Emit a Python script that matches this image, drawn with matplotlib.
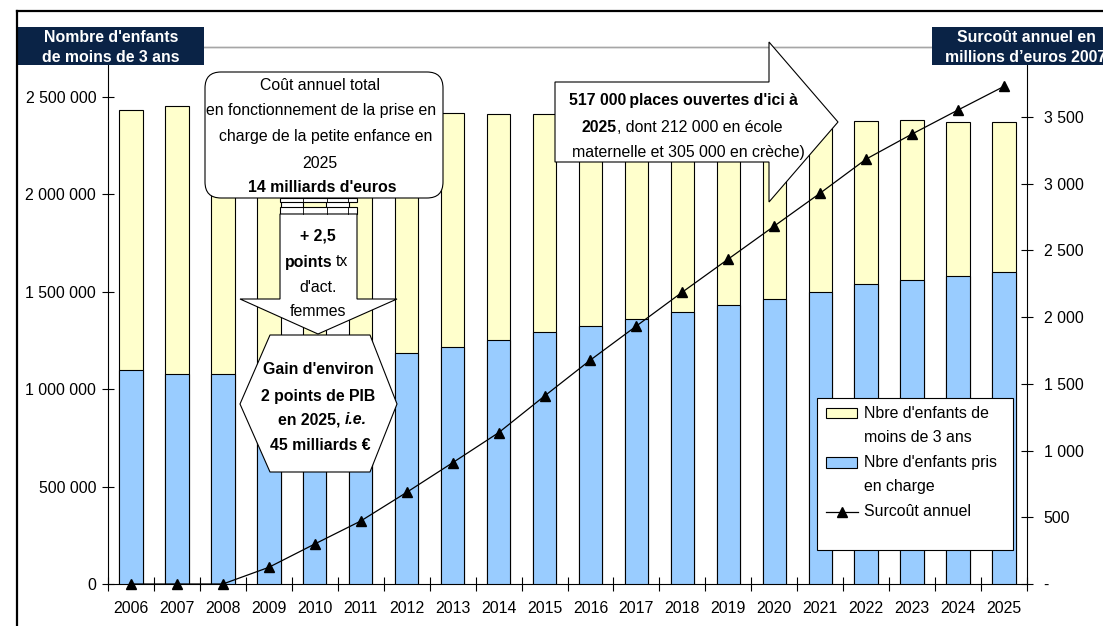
import numpy as np
import matplotlib
matplotlib.use("Agg")
import matplotlib.pyplot as plt
from matplotlib.patches import Rectangle, Polygon, FancyBboxPatch
from matplotlib.lines import Line2D

plt.rcParams['font.family'] = ['Liberation Sans', 'DejaVu Sans']

# ---------------- data ----------------
years = ['2006', '2007', '2008', '2009', '2010', '2011', '2012', '2013', '2014', '2015',
         '2016', '2017', '2018', '2019', '2020', '2021', '2022', '2023', '2024', '2025']
enfants_moins_3ans = [2433000, 2454000, 2440000, 2435000, 2430000, 2425000, 2422000, 2419000,
                      2414000, 2414000, 2410000, 2405000, 2400000, 2395000, 2390000, 2385000,
                      2378000, 2380000, 2373000, 2373000]
enfants_pris_en_charge = [1099000, 1080000, 1080000, 1100000, 1130000, 1160000, 1186000, 1218000,
                          1253000, 1292000, 1324000, 1360000, 1398000, 1432000, 1465000, 1501000,
                          1540000, 1561000, 1581000, 1600000]
surcout_annuel = [0, 0, 0, 125, 300, 472, 687, 909, 1134, 1409, 1679, 1934, 2188, 2436, 2683,
                  2930, 3185, 3373, 3553, 3730]
left_ticks = [0, 500000, 1000000, 1500000, 2000000, 2500000]
right_ticks = [0, 500, 1000, 1500, 2000, 2500, 3000, 3500]

YELLOW = '#FFFFCC'
BLUE = '#99CCFF'
NAVY = '#0a2346'
FS = 11.4

W, H = 1103, 626
fig = plt.figure(figsize=(W / 100, H / 100), dpi=100)

def fmt(v):
    return f"{v:,}".replace(',', '\u00a0')

ax = fig.add_axes([108 / W, 1 - 584 / H, (1027 - 108) / W, (584 - 47) / H])
x = np.arange(len(years))
ax.bar(x, enfants_moins_3ans, width=0.51, color=YELLOW, edgecolor='black', linewidth=0.8, zorder=2)
ax.bar(x, enfants_pris_en_charge, width=0.51, color=BLUE, edgecolor='black', linewidth=0.8, zorder=3)
ax.set_xlim(-0.5, len(years) - 0.5)
ax.set_ylim(0, 2757000)
ax.set_yticks(left_ticks)
ax.set_yticklabels([fmt(v) for v in left_ticks])
ax.tick_params(axis='y', direction='inout', length=9, width=0.8, pad=4, labelsize=FS)
ax.set_xticks(x)
ax.set_xticklabels(years)
ax.tick_params(axis='x', which='major', length=0, pad=12, labelsize=FS)
ax.set_xticks(np.arange(-0.5, len(years), 1), minor=True)
ax.tick_params(axis='x', which='minor', direction='inout', length=10, width=0.8)
ax.spines['right'].set_visible(False)
ax.spines['top'].set_color('#a6a6a6')
ax.spines['top'].set_linewidth(1.0)
ax.spines['left'].set_linewidth(0.8)
ax.spines['bottom'].set_linewidth(0.8)

ax2 = ax.twinx()
ax2.plot(x, surcout_annuel, color='black', lw=0.9, marker='^', ms=6.5, zorder=4, clip_on=False)
ax2.set_ylim(0, 4025)
ax2.set_yticks(right_ticks)
ax2.set_yticklabels(['-' if v == 0 else fmt(v) for v in right_ticks])
ax2.tick_params(axis='y', direction='inout', length=9, width=0.8, pad=7.5, labelsize=FS)
for s in ['left', 'bottom']:
    ax2.spines[s].set_visible(False)
ax2.spines['top'].set_color('#a6a6a6')
ax2.spines['top'].set_linewidth(1.0)
ax2.spines['right'].set_linewidth(0.8)

# ---------------- overlay (pixel coordinates) ----------------
ov = fig.add_axes([0, 0, 1, 1], zorder=10)
ov.set_xlim(0, W)
ov.set_ylim(H, 0)
ov.axis('off')
ov.patch.set_visible(False)
renderer = fig.canvas.get_renderer()

def text_width(t):
    bb = t.get_window_extent(renderer=renderer)
    return bb.width  # pixels == overlay data units

def mixed_line(xc, y, parts):
    """parts: list of (string, kwargs); drawn side by side, centred on xc."""
    texts = [ov.text(0, y, s, fontsize=FS, ha='left', va='center', **kw) for s, kw in parts]
    widths = [text_width(t) for t in texts]
    x0 = xc - sum(widths) / 2
    for t, w in zip(texts, widths):
        t.set_x(x0)
        x0 += w

# outer frame
ov.add_line(Line2D([17, 17], [11, H + 5], color='black', lw=1.6, clip_on=False))
ov.add_line(Line2D([17, W + 5], [11, 11], color='black', lw=1.6, clip_on=False))

# title boxes
ov.add_patch(Rectangle((18, 27), 186, 38, facecolor=NAVY, edgecolor='none'))
ov.text(111, 37, "Nombre d'enfants", color='white', fontweight='bold', fontsize=FS, ha='center', va='center')
ov.text(111, 57, "de moins de 3 ans", color='white', fontweight='bold', fontsize=FS, ha='center', va='center')
ov.add_patch(Rectangle((932, 27), 200, 38, facecolor=NAVY, edgecolor='none', clip_on=False))
ov.text(1026, 37, "Surcoût annuel en", color='white', fontweight='bold', fontsize=FS, ha='center', va='center')
ov.text(1026, 57, "millions d\u2019euros 2007", color='white', fontweight='bold', fontsize=FS, ha='center', va='center')

LW = 0.8
# cost box
ov.add_patch(FancyBboxPatch((205, 72), 238, 126, boxstyle="round,pad=0,rounding_size=16",
                            facecolor='white', edgecolor='black', lw=LW))
ov.text(320, 85, "Coût annuel total", fontsize=FS, ha='center', va='center')
ov.text(321, 111, "en fonctionnement de la prise en", fontsize=FS, ha='center', va='center')
ov.text(326, 137, "charge de la petite enfance en", fontsize=FS, ha='center', va='center')
ov.text(320, 163, "2025", fontsize=FS, ha='center', va='center')
ov.text(322, 187, "14 milliards d'euros", fontsize=FS, fontweight='bold', ha='center', va='center')

# striped down arrow
ov.add_patch(Rectangle((280, 198), 77, 4, facecolor='white', edgecolor='black', lw=LW))
ov.add_patch(Rectangle((280, 207), 77, 7, facecolor='white', edgecolor='black', lw=LW))
for xd in [303, 327, 348]:
    ov.add_line(Line2D([xd, xd], [198, 202], color='black', lw=0.6))
    ov.add_line(Line2D([xd, xd], [207, 214], color='black', lw=0.6))
ov.add_patch(Polygon([(280, 214), (357, 214), (357, 299), (397, 299), (318, 334), (240, 299), (280, 299)],
                     closed=True, facecolor='white', edgecolor='black', lw=LW))
ov.text(318, 236, "+ 2,5", fontsize=FS, fontweight='bold', ha='center', va='center')
ov.text(333, 262, "points", fontsize=FS, fontweight='bold', ha='right', va='center')
ov.text(336, 262, "tx", fontsize=FS, ha='left', va='center')
ov.text(318, 287, "d'act.", fontsize=FS, ha='center', va='center')
ov.text(318, 312, "femmes", fontsize=FS, ha='center', va='center')

# hexagon
ov.add_patch(Polygon([(270, 335), (370, 335), (397, 404), (370, 472), (270, 472), (240, 404)],
                     closed=True, facecolor='white', edgecolor='black', lw=LW))
ov.text(318, 369, "Gain d'environ", fontsize=FS, fontweight='bold', ha='center', va='center')
ov.text(318, 396, "2 points de PIB", fontsize=FS, fontweight='bold', ha='center', va='center')
mixed_line(322, 420, [("en 2025,\u00a0", dict(fontweight='bold')),
                      ("i.e.", dict(fontweight='bold', style='italic'))])
ov.text(320, 445, "45 milliards \u20ac", fontsize=FS, fontweight='bold', ha='center', va='center')

# right arrow
ov.add_patch(Polygon([(555, 82), (769, 82), (769, 42), (838, 122), (769, 202), (769, 162), (555, 162)],
                     closed=True, facecolor='white', edgecolor='black', lw=LW))
ov.text(683, 100, "517 000\u2009places ouvertes d'ici à", fontsize=FS, fontweight='bold',
        ha='center', va='center')
ov.text(617, 127, "2025", fontsize=FS, fontweight='bold', ha='right', va='center')
ov.text(617, 127, ", dont 212 000 en école", fontsize=FS, ha='left', va='center')
ov.text(688, 152, "maternelle et 305 000 en crèche)", fontsize=FS, ha='center', va='center')

# legend
ov.add_patch(Rectangle((817, 398), 196, 152, facecolor='white', edgecolor='black', lw=LW))
ov.add_patch(Rectangle((826, 408), 31, 10, facecolor=YELLOW, edgecolor='black', lw=LW))
ov.add_patch(Rectangle((826, 457), 31, 11, facecolor=BLUE, edgecolor='black', lw=LW))
ov.add_line(Line2D([826, 858], [512, 512], color='black', lw=0.9))
ov.add_line(Line2D([842], [512], color='black', marker='^', ms=6.5, lw=0))
for ty, t in [(413, "Nbre d'enfants de"), (438, "moins de 3 ans"), (462, "Nbre d'enfants pris"),
              (487, "en charge"), (511, "Surcoût annuel")]:
    ov.text(864, ty, t, fontsize=FS, ha='left', va='center')

fig.savefig('out.png', dpi=100)
